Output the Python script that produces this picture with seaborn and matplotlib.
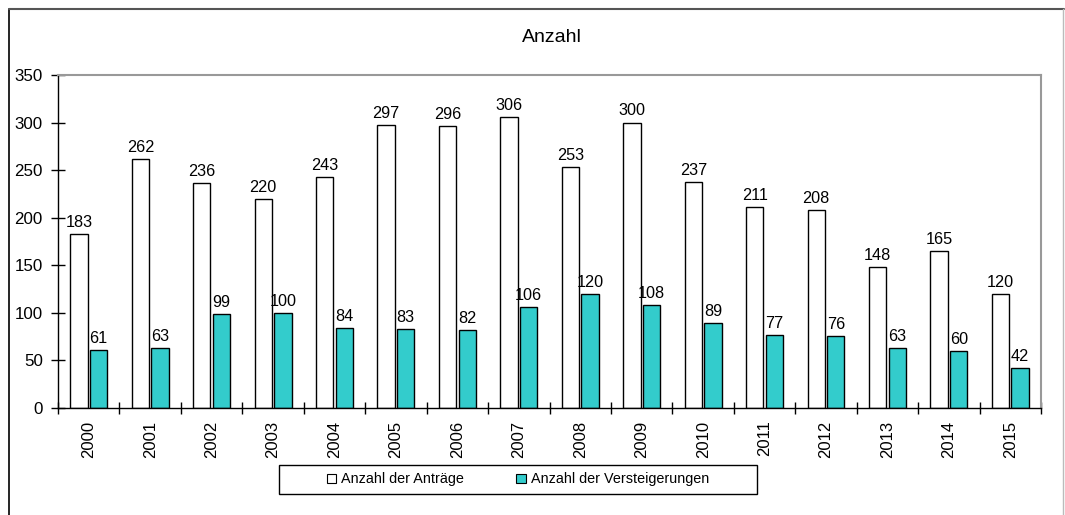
import matplotlib
matplotlib.use("Agg")
import matplotlib.pyplot as plt
from matplotlib.patches import Patch, Rectangle
from matplotlib.lines import Line2D
import pandas as pd
import seaborn as sns

years = ["2000", "2001", "2002", "2003", "2004", "2005", "2006", "2007",
         "2008", "2009", "2010", "2011", "2012", "2013", "2014", "2015"]
antraege = [183, 262, 236, 220, 243, 297, 296, 306, 253, 300, 237, 211, 208, 148, 165, 120]
versteigerungen = [61, 63, 99, 100, 84, 83, 82, 106, 120, 108, 89, 77, 76, 63, 60, 42]
series_names = ["Anzahl der Anträge", "Anzahl der Versteigerungen"]
colors = ["#FFFFFF", "#33CCCC"]

df = pd.DataFrame({
    "Jahr": years * 2,
    "Anzahl": antraege + versteigerungen,
    "Serie": [series_names[0]] * len(years) + [series_names[1]] * len(years),
})

sns.set_style("white")
plt.rcParams['font.family'] = ['Liberation Sans', 'DejaVu Sans']
plt.rcParams['text.color'] = 'black'
plt.rcParams['xtick.color'] = 'black'
plt.rcParams['ytick.color'] = 'black'
fs = 11.7

fig = plt.figure(figsize=(10.65, 5.15), dpi=100)
ax = fig.add_axes([0.0545, 0.2078, 0.923, 0.6466])

sns.barplot(data=df, x="Jahr", y="Anzahl", hue="Serie", palette=colors,
            width=0.64, gap=0.12, edgecolor="black", linewidth=1.0,
            saturation=1, legend=False, ax=ax)

for cont in ax.containers:
    ax.bar_label(cont, padding=3, fontsize=fs)

ax.set_ylim(0, 350)
ax.set_xlim(-0.5, len(years) - 0.5)
ax.set_yticks(range(0, 351, 50))
ax.set_xticks([i - 0.5 for i in range(len(years) + 1)], minor=False)
ax.set_xticklabels([])
ax.set_xticks(range(len(years)), minor=True)
ax.set_xticklabels(years, minor=True, rotation=90, fontsize=12)
ax.tick_params(axis="x", which="minor", bottom=True, length=0, pad=9)
ax.tick_params(axis="x", which="major", bottom=True, direction="inout", length=8, width=1, color="black")
ax.tick_params(axis="y", left=True, direction="inout", length=10, width=1, color="black", labelsize=12.2, pad=6)
ax.set_xlabel("")
ax.set_ylabel("")

for side in ["left", "bottom"]:
    ax.spines[side].set_color("black")
    ax.spines[side].set_linewidth(1.0)
for side in ["top", "right"]:
    ax.spines[side].set_color("#999999")
    ax.spines[side].set_linewidth(1.5)

fig.text(552 / 1065, 1 - 38 / 515, "Anzahl", ha="center", va="center", fontsize=14)

handles = [Patch(facecolor=c, edgecolor="black", linewidth=0.8) for c in colors]
leg = fig.legend(handles, series_names, loc="center", bbox_to_anchor=(518 / 1065, 1 - 479.5 / 515),
                 ncol=2, frameon=False, fontsize=10.4,
                 handlelength=0.65, handleheight=0.65, handletextpad=0.35,
                 columnspacing=3.6)

# legend box
fig.add_artist(Rectangle((279 / 1065, 1 - 494 / 515), 478 / 1065, 29 / 515,
                         transform=fig.transFigure, fill=False, edgecolor="black", lw=1.0))

# outer chart border
fig.add_artist(Line2D([0.0085, 0.0085], [0, 0.983], transform=fig.transFigure, color="black", lw=1.2))
fig.add_artist(Line2D([0.0085, 0.999], [0.983, 0.983], transform=fig.transFigure, color="#555555", lw=1.5))
fig.add_artist(Line2D([0.9985, 0.9985], [0, 0.983], transform=fig.transFigure, color="#bbbbbb", lw=1.0))

fig.savefig("out.png", dpi=100)
